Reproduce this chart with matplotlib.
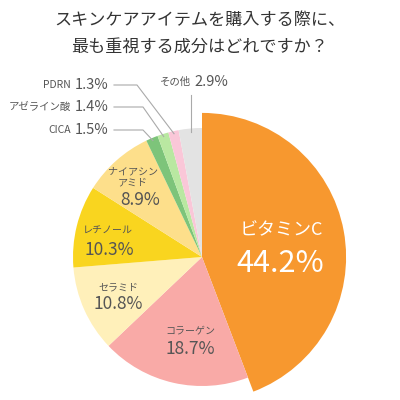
import numpy as np
import matplotlib.pyplot as plt

plt.rcParams['font.family'] = ['Noto Sans CJK JP', 'DejaVu Sans']

# data (clockwise from 12 o'clock)
names = ["ビタミンC", "コラーゲン", "セラミド", "レチノール", "ナイアシン\nアミド",
         "CICA", "アゼライン酸", "PDRN", "その他"]
shares = [44.2, 18.7, 10.8, 10.3, 8.9, 1.5, 1.4, 1.3, 2.9]
colors = ["#F7982F", "#F9AAA7", "#FFF0BA", "#F9D51F", "#FDDF8B",
          "#7DC47A", "#B9E8A1", "#FAC7D8", "#E3E3E3"]

W, H = 400, 400
CX, CY, R = 202, 257, 129


def px(x, y):
    # pixel position -> data coords (pie radius 1 = R px)
    return (x - CX) / R, (CY - y) / R


fig = plt.figure(figsize=(4, 4), dpi=100)
ax = fig.add_axes([0, 0, 1, 1])

wedges, _ = ax.pie(shares, colors=colors, startangle=90, counterclock=False,
                   radius=1, wedgeprops=dict(linewidth=0))
wedges[0].set_radius(1.117)

ax.set_aspect("auto")
ax.set_xlim(px(0, 0)[0], px(W, 0)[0])
ax.set_ylim(px(0, H)[1], px(0, 0)[1])
ax.axis("off")

txt = "#555555"
fig.text(0.5, 1 - 20 / H, "スキンケアアイテムを購入する際に、", ha="center", va="center",
         fontsize=12.3, color="#333333")
fig.text(0.5, 1 - 47 / H, "最も重視する成分はどれですか？", ha="center", va="center",
         fontsize=12.3, color="#333333")

# inner labels: (name pos, pct pos, name size, pct size, color)
inner = {
    0: ((281, 230), (280, 263), 13, 22, "white"),
    1: ((190, 330), (190, 349), 7.2, 12.5, txt),
    2: ((118, 287), (118, 304), 7.2, 12.5, txt),
    3: ((108, 230), (109, 250), 7.2, 12.5, txt),
    4: ((133, 177), (140, 200), 7.2, 12.5, txt),
}
for i, (npos, ppos, ns, ps, c) in inner.items():
    ax.text(*px(*npos), names[i], ha="center", va="center", fontsize=ns, color=c,
            linespacing=1.15)
    ax.text(*px(*ppos), f"{shares[i]}%", ha="center", va="center", fontsize=ps, color=c)

# outer labels with leader lines
cum = np.cumsum([0] + shares)
outer = {5: (130, 143), 6: (107, 143), 7: (85, 137)}
for i, (ly, ex) in outer.items():
    mid = (cum[i] + cum[i + 1]) / 2 / 100 * 2 * np.pi
    tx, ty = np.sin(mid) * 0.98, np.cos(mid) * 0.98
    x0, y0 = px(114, ly)
    x1, _ = px(ex, ly)
    ax.plot([x0, x1, tx], [y0, y0, ty], color="#AAAAAA", lw=0.8)
    pct = ax.text(*px(109, ly), f"{shares[i]}%", ha="right", va="center",
                  fontsize=10.5, color=txt)
    ax.annotate(names[i], xy=(0, 0.5), xycoords=pct, xytext=(-3, 0),
                textcoords="offset points", ha="right", va="center",
                fontsize=7.5, color=txt)

# その他
i = 8
mid = (cum[i] + cum[i + 1]) / 2 / 100 * 2 * np.pi
tx, ty = np.sin(mid) * 0.97, np.cos(mid) * 0.97
ax.plot([tx, tx], [px(0, 95)[1], ty], color="#AAAAAA", lw=0.8)
ax.text(*px(191, 82), names[i], ha="right", va="center", fontsize=7.5, color=txt)
ax.text(*px(194, 82), f"{shares[i]}%", ha="left", va="center", fontsize=10.5, color=txt)

fig.savefig("out.png", dpi=100, facecolor="white")
